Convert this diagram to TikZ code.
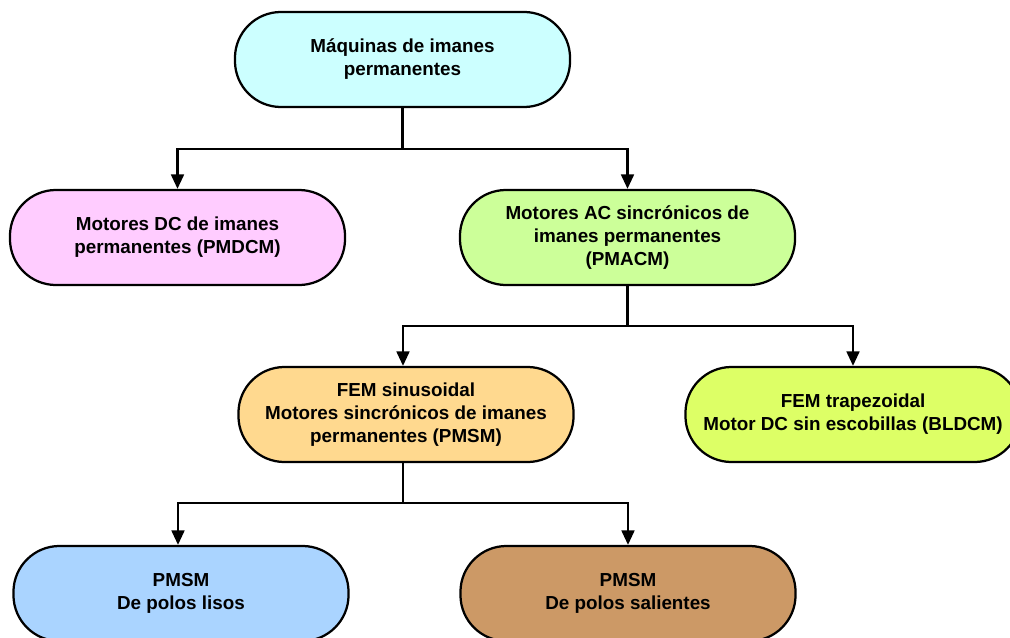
\documentclass[tikz,border=0pt]{standalone}
\usepackage{fontspec}
\setmainfont{Liberation Sans}
\usepackage{xcolor}
\usepackage{tikz}
\usetikzlibrary{arrows.meta, calc}
\definecolor{cyanfill}{RGB}{204, 255, 255}
\definecolor{pinkfill}{RGB}{255, 204, 255}
\definecolor{greenfill}{RGB}{204, 255, 153}
\definecolor{orangefill}{RGB}{255, 217, 143}
\definecolor{limefill}{RGB}{221, 255, 102}
\definecolor{bluefill}{RGB}{170, 212, 255}
\definecolor{brownfill}{RGB}{204, 153, 102}

\begin{document}
\begin{tikzpicture}[x=0.025cm, y=-0.025cm,
    pill/.style={draw=black, line width=1.6pt, rounded corners=1.15cm,
                 minimum width=8.375cm, minimum height=2.375cm, align=center,
                 font=\fontsize{13.4}{16.3}\selectfont\bfseries},
    link/.style={draw=black, line width=1.6pt},
    arrow/.style={link, -{Triangle[length=0.36cm, width=0.32cm]}}]
  \clip (0,0) rectangle (1010,637);
  \fill[white] (0,0) rectangle (1010,637);

  % niveles del arbol
  \node[pill, fill=cyanfill] (maq) at (402.5,59.5) {Máquinas de imanes\\permanentes};
  \node[pill, fill=pinkfill] (pmdcm) at (177.5,237.5) {Motores DC de imanes\\permanentes (PMDCM)};
  \node[pill, fill=greenfill] (pmacm) at (627.5,237.5) {Motores AC sincrónicos de\\imanes permanentes\\(PMACM)};
  \node[pill, fill=orangefill] (pmsm) at (406,414.5) {FEM sinusoidal\\Motores sincrónicos de imanes\\permanentes (PMSM)};
  \node[pill, fill=limefill] (bldcm) at (853,414.5) {FEM trapezoidal\\Motor DC sin escobillas (BLDCM)};
  \node[pill, fill=bluefill] (lisos) at (181,593.5) {PMSM\\De polos lisos};
  \node[pill, fill=brownfill] (salientes) at (628,593.5) {PMSM\\De polos salientes};

  % conectores
  \coordinate (j1) at ($(maq.south)+(0,41)$);
  \draw[link] (maq.south) -- (j1);
  \draw[arrow] (j1) -| (pmdcm.north);
  \draw[arrow] (j1) -| (pmacm.north);

  \coordinate (j2) at ($(pmacm.south)+(0,40)$);
  \draw[link] (pmacm.south) -- (j2);
  \draw[arrow] (j2) -| (pmsm.north -| 403,0);
  \draw[arrow] (j2) -| (bldcm.north);

  \coordinate (j3) at ($(pmsm.south -| 403,0)+(0,40)$);
  \draw[link] (pmsm.south -| 403,0) -- (j3);
  \draw[arrow] (j3) -| (lisos.north -| 178,0);
  \draw[arrow] (j3) -| (salientes.north);
\end{tikzpicture}
\end{document}
